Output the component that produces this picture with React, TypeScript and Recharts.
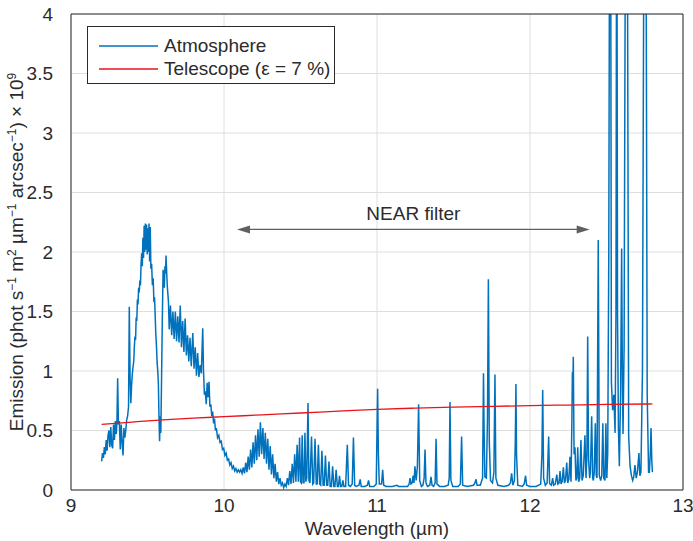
import React from "react";
import {
  LineChart,
  Line,
  XAxis,
  YAxis,
  CartesianGrid,
  Legend,
  ReferenceLine,
} from "recharts";

const FONT = '"Liberation Sans", Arial, Helvetica, sans-serif';
const INK = "#2b2b2b";
const BLUE = "#0072bd";
const RED = "#e8141c";
const ARROW = "#606060";
const FS = 19;

const xTicks = [9, 10, 11, 12, 13];
const yTicks = [0, 0.5, 1, 1.5, 2, 2.5, 3, 3.5, 4];

// telescope thermal emission (ε = 7 %)
const telescopeWave = [9.2, 9.4, 9.6, 9.8, 10, 10.25, 10.5, 10.75, 11, 11.25, 11.5, 11.75, 12, 12.25, 12.5, 12.8];
const telescopeValue = [0.552, 0.571, 0.589, 0.604, 0.616, 0.632, 0.647, 0.663, 0.678, 0.688, 0.696, 0.703, 0.709, 0.714, 0.719, 0.723];

// atmosphere spectrum, [wavelength µm, emission ×1e9]
const atmOzoneWing: [number, number][] = [
  [9.2, 0.24], [9.206, 0.31], [9.212, 0.27], [9.218, 0.36], [9.224, 0.3], [9.23, 0.42], [9.236, 0.33],
  [9.242, 0.46], [9.248, 0.5], [9.254, 0.36], [9.26, 0.53], [9.266, 0.38], [9.272, 0.35], [9.278, 0.55],
  [9.284, 0.42], [9.29, 0.58], [9.296, 0.47], [9.3, 0.56], [9.305, 0.94], [9.31, 0.55], [9.316, 0.58],
  [9.322, 0.34], [9.328, 0.55], [9.334, 0.4], [9.34, 0.29], [9.346, 0.52], [9.352, 0.44], [9.358, 0.5],
  [9.364, 0.59], [9.37, 0.62], [9.376, 0.7], [9.381, 1.54], [9.386, 0.95], [9.391, 0.73], [9.396, 0.88],
];

const atmOzonePeak: [number, number][] = [
  [9.401, 0.98], [9.406, 1.04], [9.41, 1.08], [9.414, 1.2], [9.418, 1.29], [9.422, 1.26], [9.426, 1.45],
  [9.43, 1.42], [9.434, 1.6], [9.438, 1.56], [9.442, 1.7], [9.446, 1.66], [9.45, 1.76], [9.454, 1.72],
  [9.458, 1.9], [9.462, 1.99], [9.466, 1.88], [9.47, 2.12], [9.474, 1.95], [9.478, 2.22], [9.482, 2.0],
  [9.486, 2.24], [9.49, 2.02], [9.494, 2.23], [9.498, 1.98], [9.502, 2.2], [9.506, 2.0], [9.51, 2.24],
  [9.514, 1.92], [9.518, 2.21], [9.522, 1.86], [9.527, 1.9], [9.532, 1.72], [9.537, 1.78], [9.542, 1.58],
  [9.546, 1.62], [9.549, 1.51], [9.554, 1.32], [9.559, 1.2], [9.563, 1.07], [9.567, 1.0], [9.571, 0.9],
  [9.575, 0.62], [9.579, 0.41], [9.583, 0.62], [9.587, 0.48], [9.592, 0.95], [9.597, 1.45], [9.602, 1.85],
  [9.606, 1.78], [9.61, 1.7], [9.614, 1.88], [9.618, 1.82], [9.621, 1.97], [9.625, 1.84], [9.629, 1.72],
  [9.633, 1.65], [9.637, 1.58],
];

const atmOzoneTail: [number, number][] = [
  [9.642, 1.35], [9.65, 1.55], [9.658, 1.3], [9.666, 1.5], [9.674, 1.27], [9.682, 1.5], [9.69, 1.25],
  [9.698, 1.46], [9.706, 1.24], [9.714, 1.55], [9.722, 1.2], [9.73, 1.42], [9.738, 1.16], [9.746, 1.44],
  [9.754, 1.13], [9.762, 1.3], [9.77, 1.08], [9.778, 1.28], [9.786, 1.04], [9.796, 1.32], [9.804, 1.02],
  [9.812, 1.2], [9.82, 0.96], [9.828, 1.15], [9.836, 0.95], [9.844, 1.05], [9.852, 0.98], [9.857, 1.2],
  [9.861, 1.36], [9.866, 1.0], [9.872, 0.8], [9.878, 0.83], [9.884, 0.72], [9.89, 0.9], [9.896, 0.78],
  [9.902, 0.91], [9.908, 0.7], [9.914, 0.72], [9.92, 0.62], [9.926, 0.66], [9.932, 0.56], [9.938, 0.6],
  [9.944, 0.5], [9.95, 0.52],
];

const atmTroughBump: [number, number][] = [
  [9.958, 0.44], [9.966, 0.46], [9.974, 0.4], [9.982, 0.41], [9.99, 0.34], [9.998, 0.35], [10.006, 0.29],
  [10.014, 0.31], [10.022, 0.25], [10.03, 0.26], [10.038, 0.21], [10.046, 0.23], [10.054, 0.18], [10.062, 0.2],
  [10.07, 0.16], [10.078, 0.18], [10.086, 0.15], [10.094, 0.17], [10.102, 0.15], [10.11, 0.17], [10.118, 0.14],
  [10.126, 0.19], [10.134, 0.14], [10.142, 0.23], [10.15, 0.15], [10.158, 0.28], [10.166, 0.17], [10.174, 0.34],
  [10.182, 0.19], [10.19, 0.4], [10.198, 0.22], [10.206, 0.46], [10.214, 0.25], [10.222, 0.51], [10.23, 0.28],
  [10.238, 0.57], [10.246, 0.3], [10.254, 0.52], [10.262, 0.26], [10.27, 0.48], [10.278, 0.22], [10.286, 0.43],
  [10.294, 0.17], [10.302, 0.37], [10.31, 0.13], [10.318, 0.3], [10.326, 0.1], [10.334, 0.22], [10.342, 0.07],
  [10.35, 0.15], [10.358, 0.05], [10.366, 0.1], [10.374, 0.04], [10.382, 0.06], [10.39, 0.02], [10.398, 0.05],
  [10.406, 0.03], [10.414, 0.1], [10.422, 0.04], [10.43, 0.16], [10.438, 0.05], [10.446, 0.22], [10.454, 0.06],
  [10.462, 0.3], [10.47, 0.07], [10.478, 0.38], [10.486, 0.07], [10.494, 0.44], [10.5, 0.07],
];

const atmCombLines: [number, number][] = [
  [10.505, 0.06], [10.511, 0.46], [10.517, 0.06], [10.523, 0.06], [10.529, 0.48], [10.535, 0.07], [10.541, 0.1],
  [10.549, 0.73], [10.555, 0.08], [10.562, 0.06], [10.572, 0.45], [10.58, 0.05], [10.586, 0.06], [10.595, 0.43],
  [10.603, 0.05], [10.609, 0.05], [10.617, 0.38], [10.625, 0.05], [10.632, 0.04], [10.64, 0.33], [10.648, 0.04],
  [10.655, 0.04], [10.663, 0.29], [10.671, 0.04], [10.678, 0.04], [10.686, 0.24], [10.694, 0.03], [10.702, 0.03],
  [10.71, 0.2], [10.718, 0.03], [10.725, 0.03], [10.733, 0.17], [10.741, 0.03], [10.748, 0.03], [10.755, 0.12],
  [10.762, 0.03], [10.77, 0.03], [10.777, 0.08], [10.784, 0.03], [10.795, 0.03], [10.806, 0.38], [10.814, 0.04],
  [10.826, 0.03], [10.838, 0.05], [10.846, 0.44], [10.854, 0.04], [10.865, 0.03], [10.882, 0.04], [10.89, 0.09],
  [10.897, 0.03], [10.92, 0.03], [10.937, 0.04], [10.945, 0.08], [10.952, 0.03], [10.98, 0.03], [10.995, 0.05],
  [11.0, 0.5], [11.004, 0.85], [11.009, 0.3], [11.015, 0.05], [11.03, 0.05], [11.037, 0.17], [11.044, 0.04],
];

const atmWindow: [number, number][] = [
  [11.06, 0.03], [11.1, 0.03], [11.13, 0.04], [11.14, 0.03], [11.2, 0.03], [11.21, 0.05], [11.216, 0.1],
  [11.222, 0.05], [11.23, 0.06], [11.236, 0.12], [11.242, 0.06], [11.248, 0.2], [11.256, 0.08], [11.264, 0.2],
  [11.272, 0.72], [11.279, 0.08], [11.29, 0.03], [11.3, 0.04], [11.308, 0.1], [11.314, 0.34], [11.32, 0.06],
  [11.33, 0.03], [11.345, 0.04], [11.353, 0.11], [11.36, 0.04], [11.37, 0.03], [11.38, 0.06], [11.386, 0.43],
  [11.392, 0.05], [11.41, 0.03], [11.44, 0.03], [11.465, 0.04], [11.472, 0.1], [11.477, 0.74], [11.483, 0.08],
  [11.495, 0.03], [11.53, 0.03], [11.545, 0.05], [11.553, 0.45], [11.56, 0.04], [11.59, 0.03], [11.63, 0.04],
  [11.64, 0.06], [11.647, 0.09], [11.654, 0.04], [11.675, 0.04], [11.69, 0.1], [11.696, 0.98], [11.7, 0.5],
  [11.705, 0.11], [11.715, 0.1], [11.722, 0.6], [11.728, 1.77], [11.734, 0.4], [11.742, 0.08], [11.755, 0.06],
  [11.764, 0.15], [11.771, 0.97], [11.777, 0.1], [11.79, 0.04], [11.83, 0.03], [11.86, 0.04], [11.872, 0.06],
  [11.88, 0.14], [11.888, 0.04], [11.898, 0.08], [11.904, 0.4], [11.908, 0.89], [11.912, 0.3], [11.92, 0.04],
  [11.95, 0.03], [11.962, 0.05], [11.971, 0.12], [11.978, 0.04], [12.0, 0.03], [12.04, 0.03], [12.07, 0.05],
  [12.078, 0.3], [12.083, 0.84], [12.089, 0.1], [12.1, 0.04], [12.112, 0.06], [12.122, 0.45], [12.128, 0.06],
];

const atmCO2Rise: [number, number][] = [
  [12.13, 0.05], [12.14, 0.04], [12.148, 0.1], [12.155, 0.04], [12.165, 0.05], [12.175, 0.13], [12.182, 0.05],
  [12.19, 0.06], [12.196, 0.16], [12.203, 0.05], [12.21, 0.07], [12.218, 0.19], [12.225, 0.06], [12.232, 0.08],
  [12.24, 0.23], [12.247, 0.06], [12.254, 0.09], [12.261, 0.28], [12.268, 0.07], [12.274, 0.6], [12.277, 0.99],
  [12.28, 0.85], [12.283, 1.12], [12.288, 0.3], [12.294, 0.36], [12.3, 0.08], [12.306, 0.1], [12.312, 0.36],
  [12.318, 0.07], [12.325, 0.1], [12.333, 0.42], [12.34, 0.08], [12.348, 0.12], [12.359, 0.46], [12.366, 0.1],
  [12.372, 0.3], [12.377, 1.29], [12.383, 0.25], [12.39, 0.1],
];

const atmCO2Band: [number, number][] = [
  [12.395, 0.15], [12.403, 0.62], [12.41, 0.1], [12.414, 0.08], [12.42, 0.15], [12.427, 0.56], [12.433, 0.12],
  [12.438, 0.1], [12.446, 2.1], [12.453, 0.12], [12.462, 0.08], [12.469, 0.12], [12.476, 0.56], [12.482, 0.1],
  [12.49, 0.08], [12.496, 0.56], [12.502, 0.1], [12.508, 0.31], [12.515, 2.0], [12.522, 6.0], [12.526, 6.0],
  [12.532, 0.91], [12.54, 0.67], [12.548, 0.8], [12.556, 0.48], [12.562, 1.5], [12.567, 6.0], [12.572, 1.5],
  [12.578, 0.52], [12.584, 0.2], [12.592, 0.8], [12.599, 2.03], [12.604, 0.9], [12.608, 0.47], [12.615, 1.2],
  [12.624, 5.0], [12.63, 6.0], [12.636, 5.0], [12.645, 0.45], [12.654, 0.2], [12.663, 0.12], [12.671, 0.08],
  [12.678, 0.11], [12.686, 0.21], [12.694, 0.1], [12.702, 0.15], [12.712, 0.31], [12.718, 0.12], [12.725, 0.15],
  [12.735, 1.0], [12.745, 5.0], [12.752, 6.0], [12.758, 5.0], [12.766, 0.8], [12.775, 0.15], [12.78, 0.15],
  [12.786, 0.3], [12.791, 0.52], [12.796, 0.25], [12.8, 0.15],
];

const atmosphere = [
  ...atmOzoneWing,
  ...atmOzonePeak,
  ...atmOzoneTail,
  ...atmTroughBump,
  ...atmCombLines,
  ...atmWindow,
  ...atmCO2Rise,
  ...atmCO2Band,
].map(([w, v]) => ({ w, v }));

const telescope = telescopeWave.map((w, i) => ({ w, v: telescopeValue[i] }));

// NEAR filter span
const nearStart = 10.085;
const nearEnd = 12.39;
const nearLevel = 2.19;

const ArrowShape = (p: any) => {
  const { x1, y1, x2, y2 } = p;
  const head = 13;
  const half = 4;
  return (
    <g>
      <line x1={x1 + head - 1} y1={y1} x2={x2 - head + 1} y2={y2} stroke={ARROW} strokeWidth={1.3} />
      <polygon points={`${x1},${y1} ${x1 + head},${y1 - half} ${x1 + head},${y1 + half}`} fill={ARROW} />
      <polygon points={`${x2},${y2} ${x2 - head},${y2 - half} ${x2 - head},${y2 + half}`} fill={ARROW} />
      <text x={(x1 + x2) / 2} y={y1 - 9} textAnchor="middle" fontSize={FS} fill={INK} fontFamily={FONT}>
        NEAR filter
      </text>
    </g>
  );
};

const XLabel = (props: any) => {
  const vb = props.viewBox || {};
  return (
    <text x={vb.x + vb.width / 2} y={535} textAnchor="middle" fontSize={FS} fill={INK} fontFamily={FONT}>
      Wavelength (µm)
    </text>
  );
};

const YLabel = () => {
  const sup = { fontSize: 12 };
  return (
    <text
      x={23}
      y={252}
      transform="rotate(-90 23 252)"
      textAnchor="middle"
      fontSize={FS}
      fill={INK}
      fontFamily={FONT}
    >
      Emission (phot s<tspan dy={-7} {...sup}>−1</tspan>
      <tspan dy={7}> m</tspan>
      <tspan dy={-7} {...sup}>2</tspan>
      <tspan dy={7}> µm</tspan>
      <tspan dy={-7} {...sup}>−1</tspan>
      <tspan dy={7}> arcsec</tspan>
      <tspan dy={-7} {...sup}>−1</tspan>
      <tspan dy={7}>) × 10</tspan>
      <tspan dy={-7} {...sup}>9</tspan>
    </text>
  );
};

const renderLegend = (props: any) => (
  <div
    style={{
      border: `1px solid ${INK}`,
      background: "#fff",
      width: 248,
      height: 58,
      paddingTop: 7,
      boxSizing: "border-box",
      fontFamily: FONT,
      fontSize: FS,
      color: INK,
    }}
  >
    {(props.payload || []).map((e: any) => (
      <div key={e.value} style={{ display: "flex", alignItems: "center", height: 23, marginLeft: 11 }}>
        <svg width={59} height={4} style={{ display: "block" }}>
          <line x1={0} y1={2} x2={59} y2={2} stroke={e.color} strokeWidth={1.5} />
        </svg>
        <span style={{ marginLeft: 6, lineHeight: "23px", whiteSpace: "nowrap" }}>{e.value}</span>
      </div>
    ))}
  </div>
);

const tickStyle = { fontSize: FS, fill: INK, fontFamily: FONT };

export default function App() {
  return (
    <div style={{ width: 693, height: 541 }}>
      <style>{"html,body{margin:0;padding:0;overflow:hidden}"}</style>
      <LineChart width={693} height={541} margin={{ top: 14, right: 10, bottom: 1, left: 16 }}>
        <CartesianGrid stroke="#dedede" strokeWidth={1} />
        <XAxis
          dataKey="w"
          type="number"
          domain={[9, 13]}
          ticks={xTicks}
          allowDataOverflow
          height={50}
          tickLine={false}
          tickSize={0}
          tickMargin={9}
          axisLine={{ stroke: INK }}
          tick={tickStyle}
          label={XLabel}
        />
        <XAxis xAxisId="bt" type="number" domain={[9, 13]} ticks={xTicks} allowDataOverflow orientation="bottom" mirror tick={false} tickSize={6} tickLine={{ stroke: INK }} axisLine={false} />
        <XAxis xAxisId="tp" type="number" domain={[9, 13]} ticks={xTicks} allowDataOverflow orientation="top" mirror tick={false} tickSize={6} tickLine={{ stroke: INK }} axisLine={{ stroke: INK }} />
        <YAxis
          type="number"
          domain={[0, 4]}
          ticks={yTicks}
          allowDataOverflow
          width={55}
          tickLine={false}
          tickSize={0}
          tickMargin={18}
          axisLine={{ stroke: INK }}
          tick={tickStyle}
          label={YLabel}
        />
        <YAxis yAxisId="lt" type="number" domain={[0, 4]} ticks={yTicks} allowDataOverflow orientation="left" mirror tick={false} tickSize={6} tickLine={{ stroke: INK }} axisLine={false} />
        <YAxis yAxisId="rt" type="number" domain={[0, 4]} ticks={yTicks} allowDataOverflow orientation="right" mirror tick={false} tickSize={6} tickLine={{ stroke: INK }} axisLine={{ stroke: INK }} />
        <ReferenceLine
          segment={[
            { x: nearStart, y: nearLevel },
            { x: nearEnd, y: nearLevel },
          ]}
          shape={ArrowShape}
        />
        <Line
          data={atmosphere}
          dataKey="v"
          name="Atmosphere"
          type="linear"
          stroke={BLUE}
          strokeWidth={1.5}
          dot={false}
          isAnimationActive={false}
        />
        <Line
          data={telescope}
          dataKey="v"
          name="Telescope (ε = 7 %)"
          type="monotone"
          stroke={RED}
          strokeWidth={1.3}
          dot={false}
          isAnimationActive={false}
        />
        <Legend
          layout="vertical"
          align="center"
          verticalAlign="middle"
          wrapperStyle={{ left: 87, top: 26, width: 248, height: 58 }}
          content={renderLegend}
        />
      </LineChart>
    </div>
  );
}
